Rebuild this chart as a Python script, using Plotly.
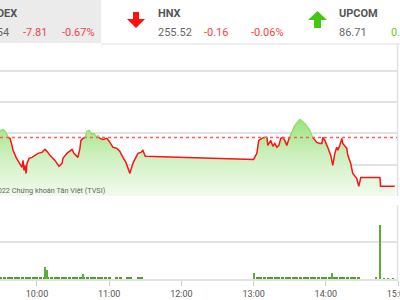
import plotly.graph_objects as go
from datetime import datetime

DAY = "2022-10-03 "
W, H = 400, 300

# ---------------- data ----------------
ref_value = 1169.35

price_times = [
    "09:27:00", "09:29:18", "09:31:48", "09:34:18", "09:35:54", "09:37:36", "09:39:12", "09:40:06",
    "09:42:36", "09:44:12", "09:45:54", "09:47:30", "09:48:24", "09:49:12", "09:50:00", "09:50:54",
    "09:51:42", "09:53:24", "09:55:48", "09:58:18", "10:00:48", "10:04:12", "10:06:36", "10:08:18",
    "10:10:48", "10:14:54", "10:18:18", "10:20:48", "10:21:36", "10:24:54", "10:27:24", "10:29:06",
    "10:30:42", "10:32:24", "10:34:00", "10:35:42", "10:36:30", "10:38:12", "10:39:54", "10:41:30",
    "10:43:12", "10:45:42", "10:47:18", "10:49:48", "10:50:42", "10:52:18", "10:54:48", "10:58:06",
    "11:00:36", "11:03:06", "11:06:24", "11:08:54", "11:11:24", "11:13:54", "11:17:12", "11:19:42",
    "11:22:12", "11:23:54", "11:26:24", "11:28:00", "11:30:00",
    "13:00:00", "13:02:42", "13:04:18", "13:06:48", "13:09:18", "13:11:00", "13:11:48", "13:14:18",
    "13:16:00", "13:17:36", "13:19:18", "13:21:00", "13:22:36", "13:24:18", "13:25:54", "13:27:36",
    "13:29:18", "13:31:48", "13:34:12", "13:38:24", "13:42:36", "13:46:42", "13:49:12", "13:52:30",
    "13:55:00", "13:56:42", "13:57:30", "13:59:12", "14:01:36", "14:04:06", "14:05:48", "14:07:30",
    "14:09:06", "14:10:00", "14:11:36", "14:13:18", "14:14:06", "14:17:24", "14:18:18", "14:20:42",
    "14:22:24", "14:25:42", "14:27:24", "14:29:06", "14:45:00", "14:45:30", "14:57:20",
]
price_values = [
    1170.20, 1170.47, 1170.63, 1170.15, 1169.35, 1169.19, 1168.07, 1167.28,
    1166.16, 1165.68, 1165.20, 1164.57, 1165.68, 1164.09, 1164.88, 1163.61,
    1165.20, 1166.00, 1166.16, 1166.48, 1166.80, 1166.96, 1167.44, 1167.12,
    1166.48, 1165.68, 1164.72, 1165.20, 1166.00, 1166.80, 1167.12, 1167.44,
    1166.80, 1166.48, 1166.16, 1167.60, 1168.87, 1169.19, 1169.35, 1170.31,
    1170.47, 1169.83, 1169.99, 1169.35, 1169.67, 1169.19, 1169.03, 1169.19,
    1168.55, 1167.76, 1167.60, 1167.12, 1166.16, 1165.36, 1163.61, 1165.20,
    1166.16, 1166.80, 1166.96, 1167.28, 1166.32,
    1165.84, 1166.80, 1168.87, 1169.19, 1169.35, 1169.51, 1168.07, 1168.87,
    1167.92, 1168.39, 1167.76, 1168.07, 1169.19, 1169.35, 1168.87, 1168.07,
    1169.19, 1170.15, 1171.26, 1172.22, 1171.58, 1170.47, 1169.35, 1168.55,
    1168.39, 1168.39, 1169.35, 1168.87, 1167.76, 1166.48, 1164.88, 1166.80,
    1167.76, 1167.28, 1168.07, 1169.19, 1168.39, 1167.60, 1166.48, 1165.20,
    1163.61, 1162.81, 1161.54, 1162.97, 1162.97, 1161.54, 1161.54,
]

band_times_am = [
    "09:30", "09:33", "09:36", "09:39", "09:42", "09:45", "09:48", "09:51", "09:54", "09:57",
    "10:00", "10:03", "10:06", "10:09", "10:12", "10:15", "10:18", "10:21", "10:24", "10:27",
    "10:30", "10:33", "10:36", "10:39", "10:42", "10:45", "10:48", "10:51", "10:54", "10:57",
    "11:00", "11:03", "11:06", "11:09", "11:12", "11:15", "11:18", "11:21", "11:24", "11:27",
]
band_values_am = [
    0.04, 0.05, 0.04, 0.04, 0.05, 0.04, 0.05, 0.04, 0.05, 0.05,
    0.04, 0.05, 0.06, 0.05, 0.04, 0.04, 0.04, 0.05, 0.04, 0.04,
    0.05, 0.04, 0.05, 0.05, 0.04, 0.05, 0.04, 0.04, 0.03, 0.04,
    0.03, 0.0, 0.03, 0.03, 0.0, 0.03, 0.03, 0.0, 0.03, 0.03,
]
band_times_pm = [
    "13:03", "13:06", "13:09", "13:12", "13:15", "13:18", "13:21", "13:24", "13:27", "13:30",
    "13:33", "13:36", "13:39", "13:42", "13:45", "13:48", "13:51", "13:54", "13:57", "14:00",
    "14:03", "14:06", "14:09", "14:12", "14:15", "14:18", "14:21", "14:24", "14:27",
]
band_values_pm = [
    0.04, 0.03, 0.04, 0.03, 0.03, 0.04, 0.03, 0.04, 0.04, 0.04,
    0.04, 0.05, 0.04, 0.04, 0.04, 0.03, 0.04, 0.04, 0.03, 0.04,
    0.04, 0.04, 0.04, 0.04, 0.05, 0.06, 0.06, 0.06, 0.06,
]
spike_times = ["10:07", "10:08", "10:38", "13:00", "14:05", "14:42", "14:45", "14:48", "14:52", "14:56"]
spike_values = [0.32, 0.24, 0.14, 0.15, 0.16, 0.05, 1.46, 0.02, 0.02, 0.02]

x_start, x_end = "09:29:16", "15:00:05"
hour_ticks = ["10:00", "11:00", "12:00", "13:00", "14:00", "15:00"]

# header values
headers = [
    {"name": "VNINDEX", "value": "1,161.54", "chg": "-7.81", "pct": "-0.67%"},
    {"name": "HNX", "value": "255.52", "chg": "-0.16", "pct": "-0.06%"},
    {"name": "UPCOM", "value": "86.71", "chg": "0.03", "pct": "0.03%"},
]

# ---------------- helpers ----------------
def dt(s):
    if len(s) == 5:
        s += ":00"
    return datetime.strptime(DAY + s, "%Y-%m-%d %H:%M:%S")

def px(x):
    return x / W

def py(y):
    return 1 - y / H

ts = [dt(s) for s in price_times]
vs = price_values

# split line into above(green)/below(red) parts
red_x, red_y, grn_x, grn_y = [], [], [], []

def add(xs, ys, a, b):
    if xs and xs[-1] == a[0] and ys[-1] == a[1]:
        xs.append(b[0]); ys.append(b[1])
    else:
        if xs:
            xs.append(None); ys.append(None)
        xs.extend([a[0], b[0]]); ys.extend([a[1], b[1]])

for i in range(len(ts) - 1):
    t0, t1, v0, v1 = ts[i], ts[i + 1], vs[i], vs[i + 1]
    if (v0 - ref_value) * (v1 - ref_value) < 0:
        frac = (ref_value - v0) / (v1 - v0)
        tc = t0 + (t1 - t0) * frac
        first = (grn_x, grn_y) if v0 > ref_value else (red_x, red_y)
        second = (grn_x, grn_y) if v1 > ref_value else (red_x, red_y)
        add(*first, (t0, v0), (tc, ref_value))
        add(*second, (tc, ref_value), (t1, v1))
    else:
        tgt = (grn_x, grn_y) if (v0 + v1) / 2 > ref_value else (red_x, red_y)
        add(*tgt, (t0, v0), (t1, v1))

fig = go.Figure()

fig.add_trace(go.Scatter(
    x=ts, y=vs, mode="lines", line=dict(width=0), fill="tozeroy",
    fillgradient=dict(type="vertical",
                      colorscale=[[0, "rgb(242,251,238)"], [0.5, "rgb(205,240,190)"], [1, "rgb(150,226,115)"]],
                      start=1160, stop=1173),
    hoverinfo="skip", xaxis="x", yaxis="y"))
fig.add_trace(go.Scatter(x=grn_x, y=grn_y, mode="lines",
                         line=dict(color="rgb(140,220,100)", width=1.2), xaxis="x", yaxis="y"))
fig.add_trace(go.Scatter(x=red_x, y=red_y, mode="lines",
                         line=dict(color="rgb(250,20,20)", width=1.5), xaxis="x", yaxis="y"))

fig.add_trace(go.Bar(x=[dt(t) for t in band_times_am + band_times_pm],
                     y=band_values_am + band_values_pm,
                     width=150000, marker=dict(color="#4f9f2a", line=dict(width=0)),
                     xaxis="x2", yaxis="y2"))
fig.add_trace(go.Bar(x=[dt(t) for t in spike_times], y=spike_values,
                     width=50000, marker=dict(color="#58b030", line=dict(width=0)),
                     xaxis="x2", yaxis="y2"))

xr = [dt(x_start), dt(x_end)]
grid = "#e2e2e2"
main_dom = [py(196), py(44)]
vol_dom = [py(279), py(205)]
xdom = [0, 398.1 / W]

fig.update_layout(
    width=W, height=H, margin=dict(l=0, r=0, t=0, b=0),
    paper_bgcolor="white", plot_bgcolor="white", showlegend=False, bargap=0,
    font=dict(family="Roboto, Arial, sans-serif"),
    xaxis=dict(domain=xdom, range=xr, showticklabels=False, showgrid=False, zeroline=False,
               anchor="y", fixedrange=True),
    yaxis=dict(domain=main_dom, range=[1160, 1160 + 152 / 6.27], dtick=5, tick0=1160,
               showgrid=True, gridcolor=grid, gridwidth=1.5, showticklabels=False,
               zeroline=False, anchor="x"),
    xaxis2=dict(domain=xdom, range=xr, anchor="y2", tickvals=[dt(h) for h in hour_ticks],
                ticktext=hour_ticks, ticks="outside", ticklen=5, tickcolor="#cccccc",
                tickfont=dict(size=9, color="#555555"), showgrid=False, zeroline=False,
                ticklabeloverflow="allow",
                showline=True, linecolor=grid, linewidth=1.5, automargin=False),
    yaxis2=dict(domain=vol_dom, range=[0, 2], dtick=1, showgrid=True, gridcolor=grid,
                gridwidth=1.5, showticklabels=False, zeroline=False, anchor="x2"),
)

shapes = [
    # reference line
    dict(type="line", xref="x domain", yref="y", x0=0, x1=1, y0=ref_value, y1=ref_value,
         line=dict(color="rgb(255,90,90)", width=1.5, dash="dot")),
    # header background
    dict(type="rect", xref="paper", yref="paper", x0=0, x1=px(101), y0=py(43), y1=1,
         fillcolor="#ebebeb", line=dict(width=0), layer="below"),
    dict(type="line", xref="paper", yref="paper", x0=px(101), x1=1, y0=py(44), y1=py(44),
         line=dict(color="#efefef", width=2)),
    # right borders
    dict(type="line", xref="paper", yref="paper", x0=px(397.5), x1=px(397.5), y0=py(196), y1=py(44),
         line=dict(color=grid, width=1.5)),
    dict(type="line", xref="paper", yref="paper", x0=px(397.5), x1=px(397.5), y0=py(279), y1=py(205),
         line=dict(color=grid, width=1.5)),
]

def poly(points):
    return "M " + " L ".join(f"{px(x):.5f},{py(y):.5f}" for x, y in points) + " Z"

down_arrow = [(133, 12), (139, 12), (139, 19), (145, 19), (136, 28), (127, 19), (133, 19)]
up_arrow = [(317.5, 11), (327, 20), (321, 20), (321, 28), (314, 28), (314, 20), (308, 20)]
shapes.append(dict(type="path", xref="paper", yref="paper", path=poly(down_arrow),
                   fillcolor="#ff1010", line=dict(width=0)))
shapes.append(dict(type="path", xref="paper", yref="paper", path=poly(up_arrow),
                   fillcolor="#44c814", line=dict(width=0)))
fig.update_layout(shapes=shapes)

RED, GRN, GRAY, DARK = "#f04545", "#66cc22", "#666666", "#555555"
ann = []

def text(t, x, y, anchor="left", color=GRAY, size=11, bold=False):
    ann.append(dict(text=f"<b>{t}</b>" if bold else t, x=px(x), y=py(y), xref="paper", yref="paper",
                    xanchor=anchor, yanchor="middle", showarrow=False,
                    font=dict(size=size, color=color, family="Roboto, Arial, sans-serif")))

text(headers[0]["name"], 19, 13, "right", DARK, 11, True)
text(headers[0]["value"], 11, 32, "right", GRAY)
text(headers[0]["chg"], 21, 32, "left", RED)
text(headers[0]["pct"], 96.5, 32, "right", RED)
text(headers[1]["name"], 156, 13, "left", DARK, 11, True)
text(headers[1]["value"], 156, 32, "left", GRAY)
text(headers[1]["chg"], 202, 32, "left", RED)
text(headers[1]["pct"], 249, 32, "left", RED)
text(headers[2]["name"], 337, 13, "left", DARK, 11, True)
text(headers[2]["value"], 337, 32, "left", GRAY)
text(headers[2]["chg"], 389, 32, "left", GRN)
text("© 2022 Chứng khoán Tân Việt (TVSI)", 108, 190, "right", "#666666", 7.3)

fig.update_layout(annotations=ann)
fig.write_html("out.html")
